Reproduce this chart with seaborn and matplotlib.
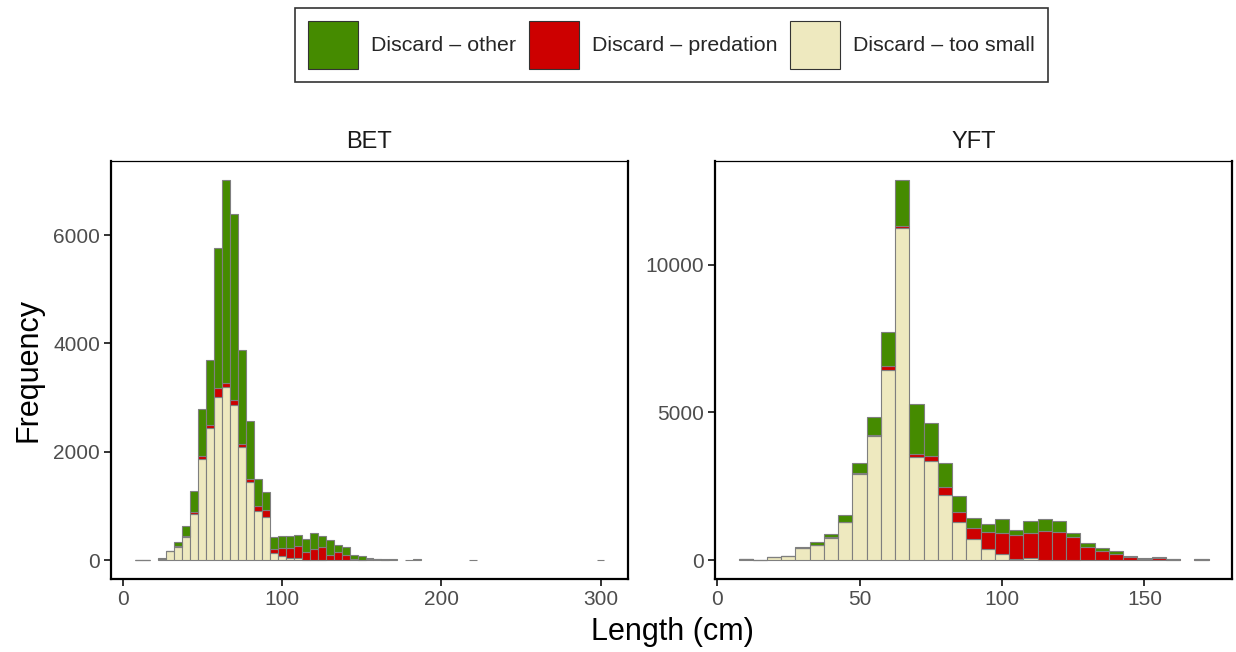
import numpy as np
import pandas as pd
import matplotlib
matplotlib.use("Agg")
import matplotlib.pyplot as plt
import seaborn as sns
from matplotlib.patches import Patch

# ---------------- data ----------------
categories = ["Discard – other", "Discard – predation", "Discard – too small"]
cat_colors = ["#458B00", "#CD0000", "#EEE9BF"]

bet_length = [10, 15, 25, 30, 35, 40, 45, 50, 55, 60, 65, 70, 75, 80, 85, 90, 95,
              100, 105, 110, 115, 120, 125, 130, 135, 140, 145, 150, 155, 160, 165,
              170, 180, 185, 220, 300]
bet_too_small = [8, 6, 25, 170, 240, 420, 850, 1860, 2430, 3010, 3200, 2855, 2095, 1445,
                 905, 790, 130, 65, 45, 30, 5, 5, 5, 0, 0, 0, 0, 0, 0, 0, 0,
                 0, 0, 0, 0, 0]
bet_predation = [0, 0, 0, 0, 15, 20, 30, 65, 55, 160, 75, 105, 55, 45, 90, 135, 75,
                 155, 180, 220, 140, 195, 230, 100, 150, 85, 10, 8, 20, 10, 5,
                 0, 0, 0, 0, 0]
bet_other = [0, 0, 5, 5, 80, 195, 390, 870, 1215, 2600, 3745, 3435, 1730, 1070, 500,
             325, 215, 225, 213, 215, 250, 300, 205, 265, 130, 160, 75, 65, 20, 15, 15,
             10, 5, 15, 5, 5]

yft_length = [10, 15, 20, 25, 30, 35, 40, 45, 50, 55, 60, 65, 70, 75, 80, 85, 90, 95,
              100, 105, 110, 115, 120, 125, 130, 135, 140, 145, 150, 155, 160, 170]
yft_too_small = [25, 8, 85, 125, 400, 500, 760, 1275, 2900, 4180, 6440, 11220, 3500,
                 3340, 2185, 1295, 720, 360, 215, 45, 80, 10, 10, 5, 0, 0, 0, 0, 0, 0,
                 10, 15]
yft_predation = [0, 0, 0, 0, 5, 5, 5, 10, 50, 50, 135, 70, 100, 170, 280, 325, 370, 585,
                 710, 790, 835, 985, 950, 785, 425, 310, 210, 90, 50, 60, 10, 10]
yft_other = [5, 2, 25, 10, 50, 100, 130, 240, 340, 595, 1125, 1570, 1690, 1125, 810,
             540, 340, 260, 460, 170, 415, 380, 370, 135, 160, 90, 90, 40, 25, 25, 15, 15]

bet_xticks = [0, 100, 200, 300]
bet_yticks = [0, 2000, 4000, 6000]
yft_xticks = [0, 50, 100, 150]
yft_yticks = [0, 5000, 10000]

binwidth = 5


def long_frame(lengths, small, pred, other):
    rows = []
    for cat, vals in zip(categories, [other, pred, small]):
        for L, v in zip(lengths, vals):
            rows.append((L, cat, v))
    return pd.DataFrame(rows, columns=["length", "category", "count"])


bet_df = long_frame(bet_length, bet_too_small, bet_predation, bet_other)
yft_df = long_frame(yft_length, yft_too_small, yft_predation, yft_other)

# ---------------- style ----------------
sns.set_style("ticks")
plt.rcParams["font.family"] = ["Liberation Sans", "DejaVu Sans"]
plt.rcParams["axes.edgecolor"] = "black"

fig = plt.figure(figsize=(12.36, 6.52), dpi=100)
W, H = 1236, 652


def add_ax(l, t, r, b):
    return fig.add_axes([l / W, 1 - b / H, (r - l) / W, (b - t) / H])


ax_bet = add_ax(111, 161, 628, 579)
ax_yft = add_ax(715, 161, 1232, 579)

palette = dict(zip(categories, cat_colors))

panels = [
    (ax_bet, bet_df, "BET", bet_xticks, bet_yticks),
    (ax_yft, yft_df, "YFT", yft_xticks, yft_yticks),
]

for ax, df, title, xt, yt in panels:
    lo = min(df["length"]) - binwidth / 2
    hi = max(df["length"]) + binwidth / 2
    sns.histplot(data=df, x="length", weights="count", hue="category",
                 hue_order=categories, palette=palette, multiple="stack",
                 binwidth=binwidth, binrange=(lo, hi),
                 edgecolor="#7F7F7F", linewidth=0.8, alpha=1,
                 legend=False, ax=ax)
    # hide empty bins (drawn as flat rectangles at the baseline)
    for p in ax.patches:
        if p.get_height() == 0 and p.get_y() == 0:
            p.set_visible(False)
    totals = df.groupby("length")["count"].sum()
    ymax = totals.max()
    ax.set_xlim(lo - 0.05 * (hi - lo), hi + 0.05 * (hi - lo))
    ax.set_ylim(-0.05 * ymax, 1.05 * ymax)
    ax.set_xticks(xt)
    ax.set_yticks(yt)
    ax.set_xlabel("")
    ax.set_ylabel("")
    ax.set_title(title, fontsize=17, pad=9, color="#1A1A1A")
    ax.tick_params(axis="both", labelsize=15, labelcolor="#4D4D4D", color="#333333",
                   length=5, width=1.4, pad=3)
    for side in ["left", "bottom", "right"]:
        ax.spines[side].set_linewidth(1.6)
    ax.spines["top"].set_linewidth(0.9)
    for s in ax.spines.values():
        s.set_visible(True)
        s.set_color("black")
    ax.grid(False)

fig.text(28 / W, 1 - 370 / H, "Frequency", rotation=90, ha="center", va="center",
         fontsize=22, color="black")
fig.text(672 / W, 1 - 632 / H, "Length (cm)", ha="center", va="center",
         fontsize=22, color="black")

handles = [Patch(facecolor=c, edgecolor="#333333", linewidth=0.8) for c in cat_colors]
leg = fig.legend(handles, categories, loc="center", bbox_to_anchor=(671.5 / W, 1 - 45 / H),
                 ncol=3, fontsize=15.4, frameon=True, fancybox=False,
                 handlelength=2.34, handleheight=3.07, handletextpad=0.6,
                 columnspacing=0.6, borderpad=0.6, borderaxespad=0)
leg.get_frame().set_edgecolor("black")
leg.get_frame().set_linewidth(1.2)

fig.savefig("out.png", dpi=100)
